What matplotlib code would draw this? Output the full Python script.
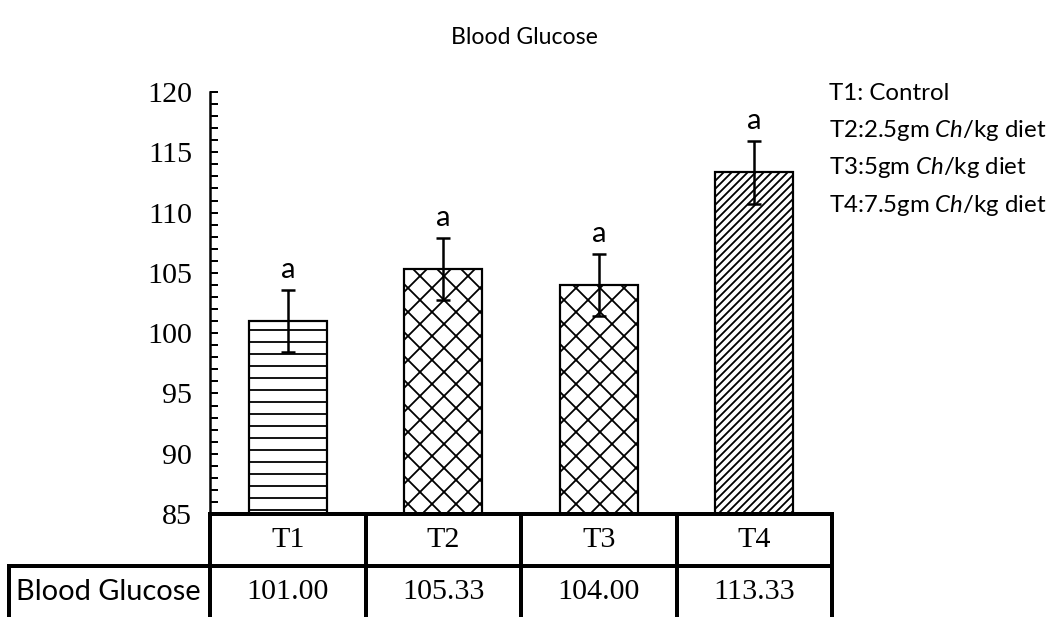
import numpy as np
import matplotlib
matplotlib.use('Agg')
import matplotlib.pyplot as plt
import matplotlib.transforms as mtransforms

# data
groups = ['T1', 'T2', 'T3', 'T4']
glucose = [101.00, 105.33, 104.00, 113.33]
glucose_err = [2.6, 2.6, 2.6, 2.6]
letters = ['a', 'a', 'a', 'a']
hatches = ['-', 'x', 'x', '///']
legend_lines = ['T1: Control',
                r'T2:2.5gm $\it{Ch}$/kg diet',
                r'T3:5gm $\it{Ch}$/kg diet',
                r'T4:7.5gm $\it{Ch}$/kg diet']

plt.rcParams['mathtext.fontset'] = 'custom'
plt.rcParams['mathtext.rm'] = 'Lato'
plt.rcParams['mathtext.it'] = 'Lato:italic'
plt.rcParams['hatch.linewidth'] = 1.8

# dpi 72 so one point is one pixel (also gives a finer hatch spacing)
fig = plt.figure(figsize=(1048 / 72, 617 / 72), dpi=72)
ax = fig.add_axes([0.2004, 0.1669, 0.5935, 0.684])

x = np.arange(len(groups))
ax.bar(x, glucose, width=0.5, bottom=0, color='white', edgecolor='black',
       linewidth=2.2, hatch=hatches, zorder=2)
ax.errorbar(x, glucose, yerr=glucose_err, fmt='none', ecolor='black',
            elinewidth=2.5, capsize=7, capthick=2.5, zorder=3)
for xi, v, e, lab in zip(x, glucose, glucose_err, letters):
    ax.annotate(lab, (xi, v + e), xytext=(0, 7), textcoords='offset points',
                ha='center', va='bottom', fontsize=29, family='Lato')

ax.set_xlim(-0.5, 3.5)
ax.set_ylim(85, 120)
ax.set_yticks(np.arange(85, 121, 5))
ax.set_yticks(np.arange(85, 121, 1), minor=True)
ax.tick_params(axis='y', which='both', direction='in', length=8, width=2,
               labelsize=30, pad=18)
for t in ax.get_yticklabels():
    t.set_family('Liberation Serif')
ax.set_xticks([])
for s in ['top', 'right']:
    ax.spines[s].set_visible(False)
ax.spines['left'].set_linewidth(2.5)
ax.spines['bottom'].set_linewidth(4)

fig.text(0.5, 0.94, 'Blood Glucose', ha='center', va='center',
         fontsize=23, family='Lato')

# data table under the axis
row_h = 0.123
tr = mtransforms.blended_transform_factory(ax.transData, ax.transAxes)
bounds = np.arange(len(groups) + 1) - 0.5
for b in bounds:
    ax.plot([b, b], [0, -2.2 * row_h], color='black', lw=4, transform=tr,
            clip_on=False)
ax.plot([-0.5 - 1.29, 3.5], [-row_h, -row_h], color='black', lw=4,
        transform=tr, clip_on=False)
ax.plot([-0.5 - 1.29, -0.5 - 1.29], [-row_h, -2.2 * row_h], color='black',
        lw=4, transform=tr, clip_on=False)
for xi, g, v in zip(x, groups, glucose):
    ax.text(xi, -row_h / 2, g, ha='center', va='center', fontsize=30,
            family='Liberation Serif', transform=tr)
    ax.text(xi, -1.5 * row_h, f'{v:.2f}', ha='center', va='center',
            fontsize=30, family='Liberation Serif', transform=tr)
ax.text(-0.5 - 0.655, -1.5 * row_h, 'Blood Glucose', ha='center', va='center',
        fontsize=29, family='Lato', transform=tr)

# treatment key
for i, line in enumerate(legend_lines):
    fig.text(0.791, 0.849 - i * 0.0605, line, ha='left', va='center',
             fontsize=24, family='Lato')

fig.savefig('out.png', dpi=72)
